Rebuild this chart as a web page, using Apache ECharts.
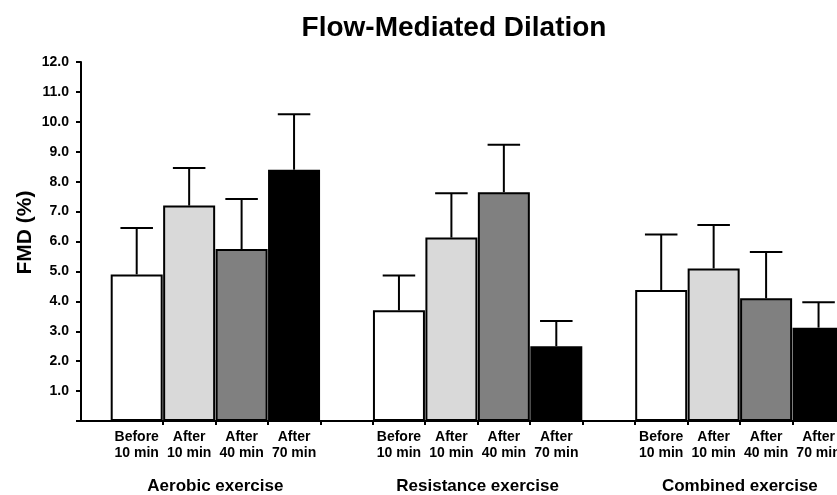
<!DOCTYPE html>
<html>
<head>
<meta charset="utf-8">
<script src="https://cdn.jsdelivr.net/npm/echarts@6/dist/echarts.min.js"></script>
<style>html,body{margin:0;padding:0;background:#fff;}#c{width:837px;height:495px;}</style>
</head>
<body>
<div id="c"></div>
<script>
const groups = ['Aerobic exercise', 'Resistance exercise', 'Combined exercise'];
const timepoints = ['Before\n10 min', 'After\n10 min', 'After\n40 min', 'After\n70 min'];
const aerobicMean = [4.9, 7.2, 5.75, 8.4];
const aerobicSD = [1.55, 1.26, 1.67, 1.85];
const resistanceMean = [3.7, 6.13, 7.65, 2.5];
const resistanceSD = [1.16, 1.48, 1.58, 0.84];
const combinedMean = [4.38, 5.1, 4.1, 3.12];
const combinedSD = [1.85, 1.45, 1.55, 0.85];
const yTickValues = [0, 1, 2, 3, 4, 5, 6, 7, 8, 9, 10, 11, 12];
const timeColors = ['#ffffff', '#d9d9d9', '#808080', '#000000'];

const FONT = '"Liberation Sans", Arial, sans-serif';
const means = [aerobicMean, resistanceMean, combinedMean];
const sds = [aerobicSD, resistanceSD, combinedSD];
const slotsPerGroup = timepoints.length + 1;

const barData = [];
const errData = [];
const labelPos = [];
const labelText = {};
groups.forEach(function (g, gi) {
  timepoints.forEach(function (t, ti) {
    const x = gi * slotsPerGroup + ti + 0.5;
    barData.push({ value: [x, means[gi][ti]], itemStyle: { color: timeColors[ti] } });
    errData.push([x, means[gi][ti], sds[gi][ti]]);
    labelPos.push(x);
    labelText[x.toFixed(2)] = t;
  });
});
const groupPos = groups.map(function (g, gi) { return gi * slotsPerGroup + timepoints.length / 2; });
const groupText = {};
groupPos.forEach(function (p, i) { groupText[p.toFixed(2)] = groups[i]; });
const tickPos = [];
for (let i = 1; i < groups.length * slotsPerGroup - 1; i++) tickPos.push(i);

const chart = echarts.init(document.getElementById('c'), null, { renderer: 'canvas' });
chart.setOption({
  animation: false,
  backgroundColor: '#ffffff',
  title: {
    text: 'Flow-Mediated Dilation',
    left: 449,
    top: 9,
    textAlign: 'center',
    textStyle: { fontFamily: FONT, fontSize: 28, fontWeight: 'bold', color: '#000' }
  },
  grid: { left: 81, right: -34, top: 62, bottom: 74, containLabel: false, outerBoundsMode: 'none' },
  xAxis: [
    {
      type: 'value',
      min: -0.562,
      max: 14.5,
      splitLine: { show: false },
      axisLine: { show: true, onZero: false, lineStyle: { color: '#000', width: 2 } },
      axisTick: { show: true, customValues: tickPos, length: 4, lineStyle: { color: '#000', width: 2 } },
      axisLabel: {
        customValues: labelPos,
        formatter: function (v) { return labelText[Number(v).toFixed(2)] || ''; },
        fontFamily: FONT, fontSize: 14, fontWeight: 'bold', color: '#000',
        lineHeight: 16, margin: 8, align: 'center'
      }
    },
    {
      type: 'value',
      position: 'bottom',
      min: -0.562,
      max: 14.5,
      offset: 57,
      splitLine: { show: false },
      axisLine: { show: false },
      axisTick: { show: false },
      axisLabel: {
        customValues: groupPos,
        formatter: function (v) { return groupText[Number(v).toFixed(2)] || ''; },
        fontFamily: FONT, fontSize: 17, fontWeight: 'bold', color: '#000', margin: 0
      }
    }
  ],
  yAxis: {
    type: 'value',
    min: 0,
    max: 12,
    interval: 1,
    name: 'FMD (%)',
    nameLocation: 'middle',
    nameGap: 45,
    nameMoveOverlap: false,
    nameTextStyle: { fontFamily: FONT, fontSize: 21, fontWeight: 'bold', color: '#000', padding: [0, 0, 0, 18] },
    splitLine: { show: false },
    axisLine: { show: true, onZero: false, lineStyle: { color: '#000', width: 2 } },
    axisTick: { show: true, length: 5, lineStyle: { color: '#000', width: 2 } },
    axisLabel: {
      formatter: function (v) { return v === 0 ? '' : v.toFixed(1); },
      fontFamily: FONT, fontSize: 14, fontWeight: 'bold', color: '#000', margin: 12
    }
  },
  series: [
    {
      type: 'bar',
      data: barData,
      barWidth: 52,
      itemStyle: { borderColor: '#000', borderWidth: 2 },
      z: 2
    },
    {
      type: 'custom',
      data: errData,
      z: 3,
      renderItem: function (params, api) {
        const x = api.value(0), m = api.value(1), s = api.value(2);
        const p0 = api.coord([x, m]);
        const p1 = api.coord([x, m + s]);
        const half = api.size([1, 0])[0] * 0.31;
        const style = { stroke: '#000', lineWidth: 2 };
        return {
          type: 'group',
          children: [
            { type: 'line', shape: { x1: p0[0], y1: p0[1], x2: p1[0], y2: p1[1] }, style: style },
            { type: 'line', shape: { x1: p1[0] - half, y1: p1[1], x2: p1[0] + half, y2: p1[1] }, style: style }
          ]
        };
      }
    }
  ]
});
</script>
</body>
</html>
